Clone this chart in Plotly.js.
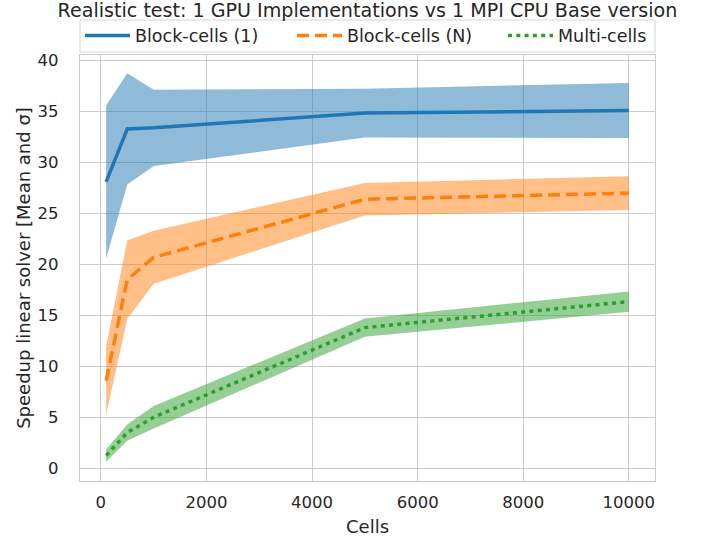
<!DOCTYPE html>
<html>
<head>
<meta charset="utf-8">
<script src="https://cdn.plot.ly/plotly-3.0.1.min.js"></script>
<style>
html,body{margin:0;padding:0;background:#fff;}
#chart{width:707px;height:542px;}
</style>
</head>
<body>
<div id="chart"></div>
<script>
// ---- data ----
var cells = [100, 500, 1000, 5000, 10000];

var blockCells1Mean  = [28.1, 33.3, 33.4, 34.85, 35.1];
var blockCells1Sigma = [7.5, 5.45, 3.75, 2.4, 2.7];

var blockCellsNMean  = [8.6, 18.5, 20.7, 26.4, 27.0];
var blockCellsNSigma = [3.35, 3.85, 2.6, 1.6, 1.65];

var multiCellsMean  = [1.25, 3.5, 5.0, 13.8, 16.35];
var multiCellsSigma = [0.6, 0.8, 1.1, 0.9, 1.0];

var seriesNames = ["Block-cells (1)", "Block-cells (N)", "Multi-cells"];
var xTickVals = [0, 2000, 4000, 6000, 8000, 10000];
var xTickText = ["0", "2000", "4000", "6000", "8000", "10000"];
var yTickVals = [0, 5, 10, 15, 20, 25, 30, 35, 40];

// ---- styling ----
var FONT = "DejaVu Sans, sans-serif";
var TXT = "#262626";
var lineColors = ["#1f77b4", "#ff7f0e", "#2ca02c"];
var fillColors = ["rgba(31,119,180,0.5)", "rgba(255,127,14,0.5)", "rgba(44,160,44,0.5)"];
var dashes = ["solid", "12px,6px", "4px,4.3px"];
var legendIds = ["legend", "legend2", "legend3"];
var legendX = [0, 212 / 575, 423 / 575];

function add(arr, s, sign) { return arr.map(function (v, i) { return v + sign * s[i]; }); }

var means = [blockCells1Mean, blockCellsNMean, multiCellsMean];
var sigmas = [blockCells1Sigma, blockCellsNSigma, multiCellsSigma];

var traces = [];
for (var k = 0; k < 3; k++) {
  traces.push({
    x: cells, y: add(means[k], sigmas[k], 1), mode: "lines",
    line: {width: 0, color: fillColors[k]}, showlegend: false, hoverinfo: "skip"
  });
  traces.push({
    x: cells, y: add(means[k], sigmas[k], -1), mode: "lines", fill: "tonexty",
    fillcolor: fillColors[k], line: {width: 0, color: fillColors[k]},
    showlegend: false, hoverinfo: "skip"
  });
}
for (var k = 0; k < 3; k++) {
  traces.push({
    x: cells, y: means[k], mode: "lines", name: seriesNames[k],
    legend: legendIds[k],
    line: {color: lineColors[k], width: 3.5, dash: dashes[k]}
  });
}

var layout = {
  width: 707, height: 542,
  margin: {l: 80, r: 52, t: 55, b: 61, autoexpand: false},
  paper_bgcolor: "#ffffff", plot_bgcolor: "#ffffff",
  font: {family: FONT, color: TXT, size: 16.5},
  title: {
    text: "Realistic test: 1 GPU Implementations vs 1 MPI CPU Base version",
    font: {family: FONT, size: 19.1, color: TXT},
    x: 0.5, xref: "paper", xanchor: "center",
    y: 1 - 10 / 542, yref: "container", yanchor: "middle"
  },
  xaxis: {
    range: [-395, 10495], tickvals: xTickVals, ticktext: xTickText,
    showgrid: true, gridcolor: "#cccccc", gridwidth: 1,
    zeroline: false, showline: true, mirror: true, linecolor: "#cccccc", linewidth: 1.2,
    ticks: "outside", ticklen: 6, tickcolor: "rgba(0,0,0,0)",
    tickfont: {family: FONT, size: 16.5, color: TXT},
    title: {text: "Cells", font: {family: FONT, size: 18, color: TXT}, standoff: 9}
  },
  yaxis: {
    range: [-1.25, 40.55], tickvals: yTickVals,
    showgrid: true, gridcolor: "#cccccc", gridwidth: 1,
    zeroline: false, showline: true, mirror: true, linecolor: "#cccccc", linewidth: 1.2,
    ticks: "outside", ticklen: 17, tickcolor: "rgba(0,0,0,0)",
    tickfont: {family: FONT, size: 16.5, color: TXT},
    title: {text: "Speedup linear solver [Mean and σ]", font: {family: FONT, size: 18, color: TXT}, standoff: 2}
  },
  shapes: [{
    type: "rect", xref: "paper", yref: "paper",
    x0: 0, x1: 1, y0: (481 - 52) / 426, y1: (481 - 20) / 426,
    line: {color: "#d5d5d5", width: 1}, fillcolor: "#ffffff", layer: "above"
  }],
  showlegend: true
};

legendIds.forEach(function (id, i) {
  layout[id] = {
    orientation: "h", x: legendX[i], xanchor: "left",
    y: (481 - 35.5) / 426, yanchor: "middle",
    bgcolor: "rgba(0,0,0,0)", borderwidth: 0,
    font: {family: FONT, size: 17.5, color: TXT},
    itemwidth: 45
  };
});

Plotly.newPlot("chart", traces, layout, {displayModeBar: false, staticPlot: true});
</script>
</body>
</html>
